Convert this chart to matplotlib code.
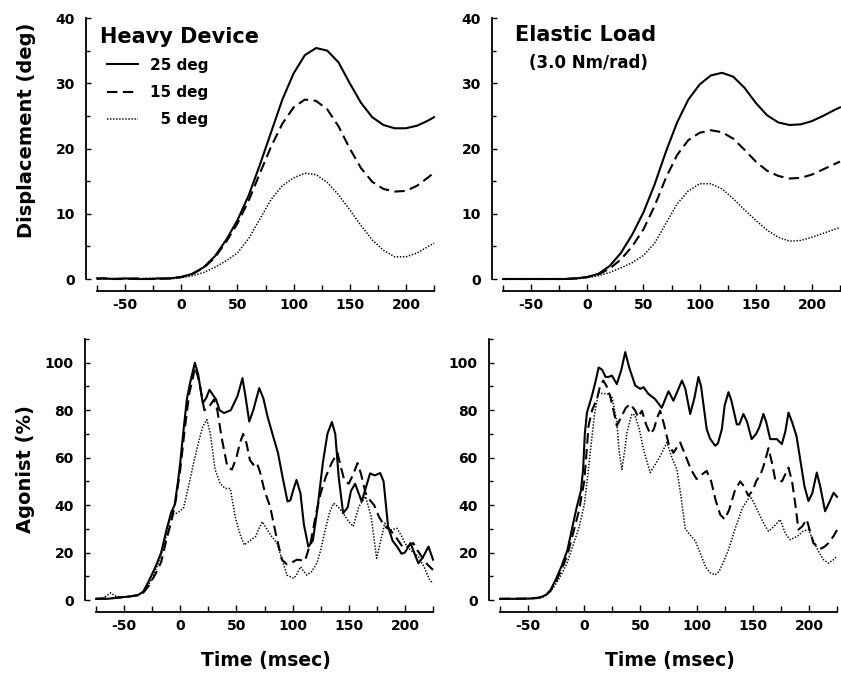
import matplotlib.pyplot as plt
from matplotlib.ticker import MultipleLocator

plt.rcParams['font.family'] = ['DejaVu Sans']
plt.rcParams['font.weight'] = 'bold'
plt.rcParams['axes.unicode_minus'] = False

# ---- displacement (deg), sampled every 10 ms ----
disp_t = [-75, -70, -60, -50, -40, -30, -20, -10, 0, 10, 20, 30, 40, 50, 60, 70,
          80, 90, 100, 110, 120, 130, 140, 150, 160, 170, 180, 190, 200, 210, 220, 225]

hd_25 = [0.1, 0.1, 0.0, 0.1, 0.0, 0.0, 0.1, 0.1, 0.3, 0.8, 1.8, 3.5, 6.0, 9.0, 12.8, 17.5,
         22.5, 27.5, 31.5, 34.3, 35.4, 35.0, 33.2, 30.0, 27.0, 24.8, 23.6, 23.1, 23.1, 23.5, 24.3, 24.8]
hd_15 = [0.0, 0.1, 0.0, 0.0, 0.1, 0.0, 0.0, 0.1, 0.3, 0.8, 1.7, 3.3, 5.7, 8.5, 12.0, 16.2,
         20.3, 23.8, 26.3, 27.5, 27.3, 26.0, 23.4, 20.0, 17.0, 14.9, 13.8, 13.4, 13.5, 14.3, 15.6, 16.3]
hd_5 = [0.0, 0.0, 0.1, 0.0, 0.0, 0.1, 0.0, 0.0, 0.2, 0.5, 1.0, 1.8, 2.8, 4.0, 6.2, 9.2,
        12.2, 14.3, 15.5, 16.2, 16.0, 14.8, 12.9, 10.6, 8.2, 6.0, 4.4, 3.4, 3.4, 4.0, 5.0, 5.5]

el_25 = [0.0, 0.0, 0.0, 0.0, 0.0, 0.0, 0.0, 0.1, 0.3, 0.8, 2.0, 4.0, 6.8, 10.2, 14.5, 19.5,
         24.0, 27.5, 29.8, 31.2, 31.6, 31.0, 29.3, 27.0, 25.1, 24.0, 23.6, 23.7, 24.2, 25.0, 25.9, 26.3]
el_15 = [0.0, 0.0, 0.0, 0.0, 0.0, 0.0, 0.0, 0.1, 0.3, 0.7, 1.6, 3.0, 5.0, 7.6, 11.2, 15.5,
         19.0, 21.3, 22.4, 22.8, 22.5, 21.5, 19.8, 18.0, 16.6, 15.8, 15.4, 15.5, 16.0, 16.8, 17.6, 18.0]
el_5 = [0.0, 0.0, 0.0, 0.0, 0.0, 0.0, 0.0, 0.0, 0.2, 0.5, 1.0, 1.7, 2.5, 3.6, 5.5, 8.5,
        11.5, 13.5, 14.6, 14.6, 13.8, 12.3, 10.6, 9.0, 7.5, 6.4, 5.8, 5.9, 6.4, 7.0, 7.6, 7.9]

# ---- agonist EMG (%), heavy device ----
hd_emg25_t = [-75, -65, -55, -45, -38, -33, -28, -22, -17, -12, -8, -5, -2, 0, 3, 6, 9, 13, 16, 20,
              23, 26, 32, 35, 39, 45, 51, 55.4, 58, 61.4, 65, 70.3, 74, 77.7, 83.6, 87, 91, 95.5, 98,
              101, 103.5, 107, 110, 114, 118, 122, 127, 131, 135, 138, 141, 145, 149, 152, 155.7,
              158, 161.5, 165, 169, 173, 178, 181, 185, 189, 193, 197, 200, 205, 209, 212, 216, 221, 225]
hd_emg25 = [0.5, 0.5, 1.0, 1.5, 2.0, 3.5, 8, 14, 20, 30, 37, 40, 50, 58, 72, 85, 92, 100, 95, 83,
            85, 88.6, 84.4, 80, 78.8, 80, 86, 93.5, 86, 75.2, 80, 89.3, 85, 77.3, 67.5, 62, 52, 41.5, 42,
            47, 50.6, 45, 32, 22.5, 25, 38, 58, 70, 75, 70, 52, 36.6, 39, 46, 49,
            46, 41.5, 47, 53.4, 52.5, 53.5, 50, 31, 25, 22.5, 19.5, 20, 24, 19, 15.5, 18, 22.5, 17]

hd_emg15_t = [-75, -60, -45, -38, -33, -28, -22, -17, -12, -8, -4, 0, 4, 8, 13.3, 17, 21.4, 25, 30,
              33, 37, 42, 46, 50, 53, 56, 59, 62, 65, 68, 71, 75, 80, 85, 90.5, 95, 98, 104, 111,
              116, 121, 125, 129.6, 135, 140, 143, 146, 150, 154, 157.8, 161, 165, 169, 172.6, 177,
              182, 187, 192.7, 197, 200, 204, 207.4, 211, 215, 220, 225]
hd_emg15 = [0.5, 0.8, 1.5, 2, 3, 6, 11, 16, 26, 33, 42, 55, 72, 87, 98, 92, 80, 81, 84.5,
            80, 68, 56, 55, 60, 66, 70, 66, 59, 57, 58, 54, 46, 39.4, 28, 17, 15, 15.5, 17, 16.5,
            24, 36.6, 45, 52, 58, 62, 56, 50.6, 49, 53, 57.7, 53, 45, 42, 40, 35,
            31, 29.5, 26, 23, 21.8, 23, 24, 21, 18.3, 15, 12.7]

hd_emg5_t = [-75, -68, -62, -57, -50, -40, -35, -30, -25, -20, -15, -12, -9, -6, -3, 0, 3, 7, 12,
             16, 20, 23.7, 26.7, 31, 35.6, 40, 44.5, 49, 53, 57, 62, 67, 70, 73, 77, 81.5, 86, 90,
             95, 101, 104, 107, 110, 112.7, 117, 121.6, 125, 129, 133, 136.6, 141, 145, 150, 154,
             159, 165, 170, 174.8, 178, 182, 187, 193, 197, 200, 205, 212, 217, 222, 225]
hd_emg5 = [0.5, 1, 3, 1.5, 1.2, 1.8, 2.5, 5, 9, 15, 22, 28, 34, 36, 36.7, 37.5, 39, 47, 58,
           66, 73, 76, 70.3, 55, 49, 47, 47, 35, 28, 23.2, 25, 26.7, 30, 33, 30, 26.7, 24, 18,
           10.5, 9.1, 11, 14, 12, 10.5, 12, 15.5, 21, 29.5, 37, 40.8, 39, 36.6, 33, 31,
           39.4, 43.6, 35, 17.6, 24, 32.4, 29.5, 30.2, 27, 24, 21, 18.3, 14, 8.4, 7]

# ---- agonist EMG (%), elastic load ----
el_emg25_t = [-75, -60, -50, -42, -37, -33, -30, -25, -20, -15, -10, -6.5, -3, -1, 0.5, 2.4, 6.8,
              10, 12.8, 16, 19, 21.6, 24.6, 29, 33, 36.5, 40, 45.4, 49.8, 52.8, 57, 63, 69, 75,
              79.4, 83, 87, 90, 94.3, 98, 101.7, 104, 109, 112, 116.5, 119, 122.5, 125, 128.4,
              131, 135.8, 138, 141.7, 145, 149, 153, 156, 159.5, 162, 165.5, 171.5, 175.9, 179,
              181.8, 185, 189, 192, 196, 199.6, 203, 207, 210, 214.4, 218, 222, 225]
el_emg25 = [0.5, 0.5, 0.6, 0.8, 1.5, 2.5, 4.2, 9, 14.5, 21, 32, 39.5, 46, 55, 70, 79, 86,
            92, 98, 97, 94, 94, 94.6, 91, 97, 104.5, 98, 90.4, 89, 89.7, 86.9, 84.7, 81, 88,
            84, 88, 92.5, 89, 78.4, 85, 94, 90, 72, 68, 65, 66, 72, 82, 87.6,
            84, 74, 74, 78.4, 75, 67.8, 70, 73, 78.4, 75, 67.8, 67.8, 65.7, 71,
            79, 75, 69, 60, 48, 41.7, 45, 53.7, 48, 37.4, 41, 45.2, 43.5]

el_emg15_t = [-75, -50, -40, -35, -30, -25, -20, -15, -10, -5, 0, 2, 3.8, 7, 11.3, 14, 17, 20, 23,
              26, 29, 33.5, 37, 40.9, 45.4, 48, 51.3, 55, 58.7, 62, 65, 67.6, 71, 75, 79.4, 82,
              85.4, 90, 95, 100, 105, 109, 113, 117, 121, 125, 129, 134, 138.8, 142, 146, 150,
              153, 157, 160, 164, 167, 170, 176, 181.8, 185, 187.7, 190.7, 194, 198, 201, 204,
              210, 214, 217.4, 222, 225]
el_emg15 = [0.5, 0.6, 1, 1.8, 4, 8, 13, 19, 28, 37, 50, 62, 73.4, 80, 84.7, 90, 92.5, 90, 86,
            80, 73.4, 77.7, 81, 82.6, 79.8, 77, 79.8, 74, 70, 72, 77, 79.8, 74, 66, 62, 64,
            66.4, 61, 55, 51, 53, 54.4, 50, 42, 36, 34, 38, 46, 50, 48, 44, 46,
            50, 53, 57, 64, 58, 50.8, 50, 55.8, 50, 41, 29.7, 31, 34, 29, 24,
            21.5, 22.5, 24, 27, 29.5]

el_emg5_t = [-75, -50, -40, -35, -30, -25, -20, -15, -10, -5, 0, 3, 6, 9, 12.8, 16, 20, 24.6, 29,
             31, 33.5, 36, 38, 42.4, 45, 49, 53, 58.7, 63, 68, 73.6, 78, 82.5, 86, 89.9, 95,
             98.8, 103, 108, 112, 116.5, 120, 124, 128.4, 135, 141, 147.7, 152, 156, 160, 164,
             169, 174.4, 179, 183.3, 190, 195, 199.6, 204, 209, 213, 217.4, 222, 225]
el_emg5 = [0.5, 0.5, 0.8, 1.5, 3.5, 7, 11, 16, 23, 30, 40, 52, 65, 78, 87.6, 87, 87, 86, 75,
           63, 55, 63, 70.6, 78.4, 78, 72, 63, 53.7, 57, 61, 66.4, 60, 55, 44, 30, 27,
           25, 20, 14, 11.5, 10.6, 12, 16, 21.2, 31, 39, 43.8, 40, 36, 32, 29,
           31, 33.9, 28, 25.4, 27, 29, 29.7, 25, 20, 17, 15.5, 17, 18.5]

legend_labels = ['25 deg', '15 deg', '  5 deg']

W, H = 841, 673
fig = plt.figure(figsize=(W / 100, H / 100), dpi=100)


def add_panel(x0, x1, ybot, ytop):
    return fig.add_axes([x0 / W, 1 - ybot / H, (x1 - x0) / W, (ybot - ytop) / H])


def style(ax, ymax, ymajor, yminor):
    ax.set_xlim(-75, 225)
    ax.set_ylim(0, ymax)
    ax.patch.set_visible(False)
    for s in ('top', 'right'):
        ax.spines[s].set_visible(False)
    ax.spines['left'].set_position(('outward', 8))
    ax.spines['bottom'].set_position(('outward', 8.5))
    ax.spines['left'].set_bounds(0, ymax)
    ax.spines['bottom'].set_bounds(-75, 225)
    for s in ('left', 'bottom'):
        ax.spines[s].set_linewidth(1.3)
    ax.xaxis.set_major_locator(MultipleLocator(50))
    ax.xaxis.set_minor_locator(MultipleLocator(25))
    ax.yaxis.set_major_locator(MultipleLocator(ymajor))
    ax.yaxis.set_minor_locator(MultipleLocator(yminor))
    ax.tick_params(which='both', direction='in', width=1.0, labelsize=10)
    ax.tick_params(axis='x', which='major', length=5, pad=5)
    ax.tick_params(axis='x', which='minor', length=4)
    ax.tick_params(axis='y', which='major', length=3.5, pad=8)
    ax.tick_params(axis='y', which='minor', length=3)


def draw(ax, t, v, kind):
    if kind == 'solid':
        ax.plot(t, v, color='k', lw=1.5, clip_on=False)
    elif kind == 'dashed':
        ax.plot(t, v, color='k', lw=1.5, dashes=(5, 2.6), clip_on=False)
    else:
        ax.plot(t, v, color='k', lw=1.1, dashes=(0.9, 1.1), clip_on=False)


ax1 = add_panel(97, 434, 279, 18)
ax2 = add_panel(503, 840, 279, 18)
ax3 = add_panel(96, 433, 600, 339)
ax4 = add_panel(500, 837, 600, 339)

for ax in (ax1, ax2):
    style(ax, 40, 10, 5)
for ax in (ax3, ax4):
    style(ax, 110, 20, 10)

draw(ax1, disp_t, hd_25, 'solid')
draw(ax1, disp_t, hd_15, 'dashed')
draw(ax1, disp_t, hd_5, 'dotted')
draw(ax2, disp_t, el_25, 'solid')
draw(ax2, disp_t, el_15, 'dashed')
draw(ax2, disp_t, el_5, 'dotted')

draw(ax3, hd_emg25_t, hd_emg25, 'solid')
draw(ax3, hd_emg15_t, hd_emg15, 'dashed')
draw(ax3, hd_emg5_t, hd_emg5, 'dotted')
draw(ax4, el_emg25_t, el_emg25, 'solid')
draw(ax4, el_emg15_t, el_emg15, 'dashed')
draw(ax4, el_emg5_t, el_emg5, 'dotted')

ax1.text(0.01, 0.965, 'Heavy Device', transform=ax1.transAxes, fontsize=15,
         fontweight='bold', ha='left', va='top')
ax1.legend(ax1.get_lines()[:3], legend_labels, loc='upper left', bbox_to_anchor=(0.03, 0.848),
           frameon=False, fontsize=11, handlelength=2.0, handletextpad=0.8,
           labelspacing=0.8, borderpad=0, borderaxespad=0)

ax2.text(0.245, 0.975, 'Elastic Load', transform=ax2.transAxes, fontsize=15,
         fontweight='bold', ha='center', va='top')
ax2.text(0.255, 0.862, '(3.0 Nm/rad)', transform=ax2.transAxes, fontsize=12,
         fontweight='bold', ha='center', va='top')

ax1.set_ylabel('Displacement (deg)', fontsize=14, fontweight='bold')
ax1.yaxis.set_label_coords(-0.18, 0.57)
ax3.set_ylabel('Agonist (%)', fontsize=14, fontweight='bold')
ax3.yaxis.set_label_coords(-0.18, 0.5)
for ax in (ax3, ax4):
    ax.set_xlabel('Time (msec)', fontsize=13.5, fontweight='bold')
    ax.xaxis.set_label_coords(0.505, -0.195)

fig.savefig('out.png', dpi=100)
